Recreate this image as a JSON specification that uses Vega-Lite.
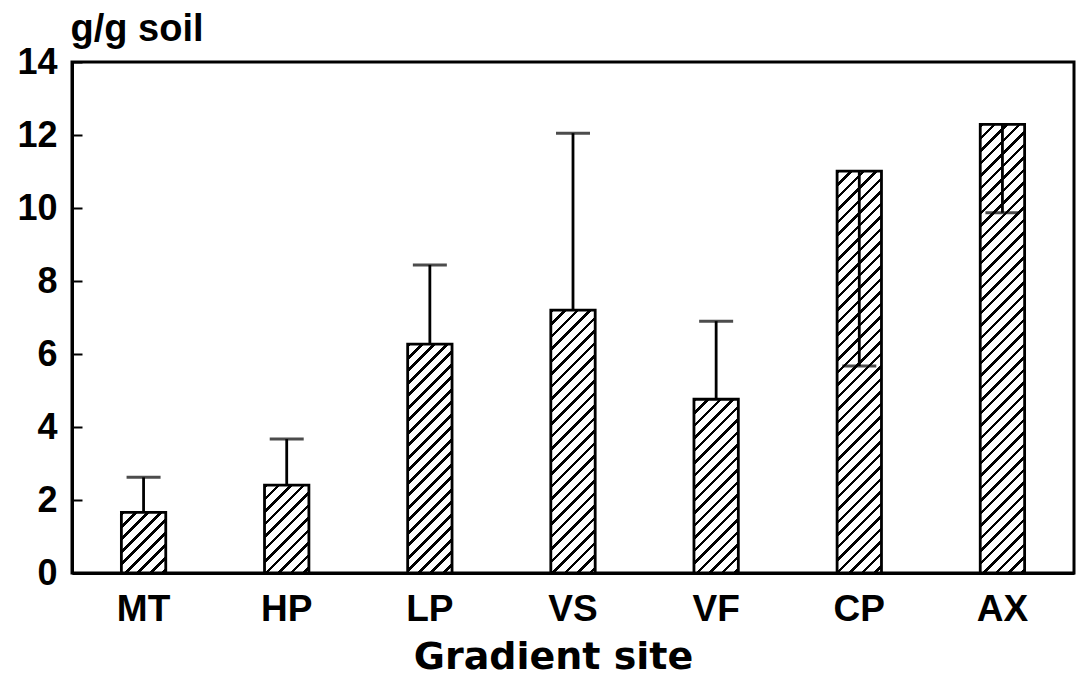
{
  "$schema": "https://vega.github.io/schema/vega-lite/v6.json",
  "width": 1002,
  "height": 511,
  "autosize": {"type": "none"},
  "padding": {"left": 72, "top": 62, "right": 8, "bottom": 116},
  "background": "white",
  "params": [
    {"name": "hatch", "value": [
      {"offset":0,"color":"black"},{"offset":0.0075,"color":"black"},{"offset":0.0075,"color":"white"},{"offset":0.025,"color":"white"},
      {"offset":0.025,"color":"black"},{"offset":0.0325,"color":"black"},{"offset":0.0325,"color":"white"},{"offset":0.05,"color":"white"},
      {"offset":0.05,"color":"black"},{"offset":0.0575,"color":"black"},{"offset":0.0575,"color":"white"},{"offset":0.075,"color":"white"},
      {"offset":0.075,"color":"black"},{"offset":0.0825,"color":"black"},{"offset":0.0825,"color":"white"},{"offset":0.1,"color":"white"},
      {"offset":0.1,"color":"black"},{"offset":0.1075,"color":"black"},{"offset":0.1075,"color":"white"},{"offset":0.125,"color":"white"},
      {"offset":0.125,"color":"black"},{"offset":0.1325,"color":"black"},{"offset":0.1325,"color":"white"},{"offset":0.15,"color":"white"},
      {"offset":0.15,"color":"black"},{"offset":0.1575,"color":"black"},{"offset":0.1575,"color":"white"},{"offset":0.175,"color":"white"},
      {"offset":0.175,"color":"black"},{"offset":0.1825,"color":"black"},{"offset":0.1825,"color":"white"},{"offset":0.2,"color":"white"},
      {"offset":0.2,"color":"black"},{"offset":0.2075,"color":"black"},{"offset":0.2075,"color":"white"},{"offset":0.225,"color":"white"},
      {"offset":0.225,"color":"black"},{"offset":0.2325,"color":"black"},{"offset":0.2325,"color":"white"},{"offset":0.25,"color":"white"},
      {"offset":0.25,"color":"black"},{"offset":0.2575,"color":"black"},{"offset":0.2575,"color":"white"},{"offset":0.275,"color":"white"},
      {"offset":0.275,"color":"black"},{"offset":0.2825,"color":"black"},{"offset":0.2825,"color":"white"},{"offset":0.3,"color":"white"},
      {"offset":0.3,"color":"black"},{"offset":0.3075,"color":"black"},{"offset":0.3075,"color":"white"},{"offset":0.325,"color":"white"},
      {"offset":0.325,"color":"black"},{"offset":0.3325,"color":"black"},{"offset":0.3325,"color":"white"},{"offset":0.35,"color":"white"},
      {"offset":0.35,"color":"black"},{"offset":0.3575,"color":"black"},{"offset":0.3575,"color":"white"},{"offset":0.375,"color":"white"},
      {"offset":0.375,"color":"black"},{"offset":0.3825,"color":"black"},{"offset":0.3825,"color":"white"},{"offset":0.4,"color":"white"},
      {"offset":0.4,"color":"black"},{"offset":0.4075,"color":"black"},{"offset":0.4075,"color":"white"},{"offset":0.425,"color":"white"},
      {"offset":0.425,"color":"black"},{"offset":0.4325,"color":"black"},{"offset":0.4325,"color":"white"},{"offset":0.45,"color":"white"},
      {"offset":0.45,"color":"black"},{"offset":0.4575,"color":"black"},{"offset":0.4575,"color":"white"},{"offset":0.475,"color":"white"},
      {"offset":0.475,"color":"black"},{"offset":0.4825,"color":"black"},{"offset":0.4825,"color":"white"},{"offset":0.5,"color":"white"},
      {"offset":0.5,"color":"black"},{"offset":0.5075,"color":"black"},{"offset":0.5075,"color":"white"},{"offset":0.525,"color":"white"},
      {"offset":0.525,"color":"black"},{"offset":0.5325,"color":"black"},{"offset":0.5325,"color":"white"},{"offset":0.55,"color":"white"},
      {"offset":0.55,"color":"black"},{"offset":0.5575,"color":"black"},{"offset":0.5575,"color":"white"},{"offset":0.575,"color":"white"},
      {"offset":0.575,"color":"black"},{"offset":0.5825,"color":"black"},{"offset":0.5825,"color":"white"},{"offset":0.6,"color":"white"},
      {"offset":0.6,"color":"black"},{"offset":0.6075,"color":"black"},{"offset":0.6075,"color":"white"},{"offset":0.625,"color":"white"},
      {"offset":0.625,"color":"black"},{"offset":0.6325,"color":"black"},{"offset":0.6325,"color":"white"},{"offset":0.65,"color":"white"},
      {"offset":0.65,"color":"black"},{"offset":0.6575,"color":"black"},{"offset":0.6575,"color":"white"},{"offset":0.675,"color":"white"},
      {"offset":0.675,"color":"black"},{"offset":0.6825,"color":"black"},{"offset":0.6825,"color":"white"},{"offset":0.7,"color":"white"},
      {"offset":0.7,"color":"black"},{"offset":0.7075,"color":"black"},{"offset":0.7075,"color":"white"},{"offset":0.725,"color":"white"},
      {"offset":0.725,"color":"black"},{"offset":0.7325,"color":"black"},{"offset":0.7325,"color":"white"},{"offset":0.75,"color":"white"},
      {"offset":0.75,"color":"black"},{"offset":0.7575,"color":"black"},{"offset":0.7575,"color":"white"},{"offset":0.775,"color":"white"},
      {"offset":0.775,"color":"black"},{"offset":0.7825,"color":"black"},{"offset":0.7825,"color":"white"},{"offset":0.8,"color":"white"},
      {"offset":0.8,"color":"black"},{"offset":0.8075,"color":"black"},{"offset":0.8075,"color":"white"},{"offset":0.825,"color":"white"},
      {"offset":0.825,"color":"black"},{"offset":0.8325,"color":"black"},{"offset":0.8325,"color":"white"},{"offset":0.85,"color":"white"},
      {"offset":0.85,"color":"black"},{"offset":0.8575,"color":"black"},{"offset":0.8575,"color":"white"},{"offset":0.875,"color":"white"},
      {"offset":0.875,"color":"black"},{"offset":0.8825,"color":"black"},{"offset":0.8825,"color":"white"},{"offset":0.9,"color":"white"},
      {"offset":0.9,"color":"black"},{"offset":0.9075,"color":"black"},{"offset":0.9075,"color":"white"},{"offset":0.925,"color":"white"},
      {"offset":0.925,"color":"black"},{"offset":0.9325,"color":"black"},{"offset":0.9325,"color":"white"},{"offset":0.95,"color":"white"},
      {"offset":0.95,"color":"black"},{"offset":0.9575,"color":"black"},{"offset":0.9575,"color":"white"},{"offset":0.975,"color":"white"},
      {"offset":0.975,"color":"black"},{"offset":0.9825,"color":"black"},{"offset":0.9825,"color":"white"},{"offset":1,"color":"white"}
    ]}
  ],
  "data": {"values": [
    {"site": "MT", "mean": 1.66, "err": 2.62},
    {"site": "HP", "mean": 2.41, "err": 3.67},
    {"site": "LP", "mean": 6.27, "err": 8.44},
    {"site": "VS", "mean": 7.2, "err": 12.05},
    {"site": "VF", "mean": 4.76, "err": 6.9},
    {"site": "CP", "mean": 11.01, "err": 5.67},
    {"site": "AX", "mean": 12.29, "err": 9.87}
  ]},
  "encoding": {
    "x": {
      "field": "site", "type": "nominal", "sort": null,
      "scale": {"type": "band", "paddingInner": 0.69, "paddingOuter": 0.345},
      "axis": {
        "title": "Gradient site",
        "labelAngle": 0,
        "ticks": false,
        "tickSize": 0,
        "labelFont": "Liberation Sans",
        "labelFontWeight": "bold",
        "labelFontSize": 37,
        "labelColor": "black",
        "labelBaseline": "alphabetic",
        "labelPadding": 47,
        "titleFont": "DejaVu Sans",
        "titleFontWeight": "bold",
        "titleFontSize": 38,
        "titleColor": "black",
        "titleX": 481,
        "titleY": 95,
        "titleAlign": "center",
        "titleBaseline": "alphabetic"
      }
    }
  },
  "layer": [
    {
      "mark": {
        "type": "bar",
        "stroke": "black",
        "strokeWidth": 2.8,
        "fill": {"expr": "{gradient: 'linear', x1: 0, y1: 0, x2: 500*bandwidth('x')/(bandwidth('x')*bandwidth('x') + pow(datum.mean*height/14, 2)), y2: 500*(datum.mean*height/14)/(bandwidth('x')*bandwidth('x') + pow(datum.mean*height/14, 2)), stops: hatch}"}
      },
      "encoding": {
        "y": {
          "field": "mean", "type": "quantitative",
          "scale": {"domain": [0, 14], "nice": false},
          "axis": {
            "title": "g/g soil",
            "values": [0, 2, 4, 6, 8, 10, 12, 14],
            "grid": false,
            "tickSize": -10,
            "tickWidth": 2,
            "tickColor": "black",
            "labelPadding": 25,
            "labelFont": "Liberation Sans",
            "labelFontWeight": "bold",
            "labelFontSize": 36,
            "labelColor": "black",
            "titleFont": "Liberation Sans",
            "titleFontWeight": "bold",
            "titleFontSize": 38,
            "titleColor": "black",
            "titleAngle": 0,
            "titleX": -2,
            "titleY": -22,
            "titleAlign": "left",
            "titleBaseline": "alphabetic"
          }
        }
      }
    },
    {
      "mark": {"type": "rule", "color": "black", "strokeWidth": 2.8},
      "encoding": {
        "y": {"field": "mean", "type": "quantitative"},
        "y2": {"field": "err"}
      }
    },
    {
      "mark": {"type": "tick", "color": "black", "size": 34, "thickness": 3},
      "encoding": {
        "y": {"field": "err", "type": "quantitative"}
      }
    }
  ],
  "config": {
    "view": {"stroke": "black", "strokeWidth": 3},
    "axis": {"domainColor": "black", "domainWidth": 3}
  }
}
